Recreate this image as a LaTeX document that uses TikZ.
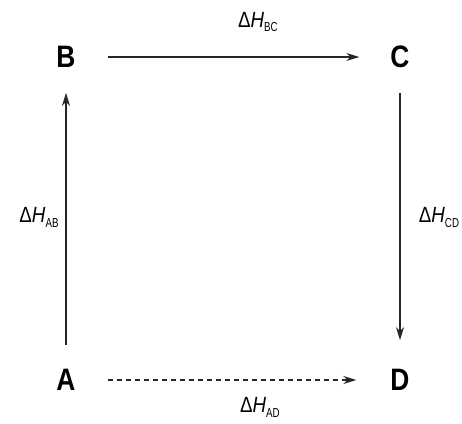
\documentclass[tikz,border=0pt]{standalone}
\usepackage{fontspec}
\setmainfont{Liberation Sans}
\newfontfamily\cond{Liberation Sans}[FakeStretch=0.85]
\newfontfamily\subcond{Liberation Sans}[FakeStretch=0.75]
\usetikzlibrary{arrows.meta}
\newcommand{\dH}[1]{{\cond\fontsize{22}{22}\selectfont Δ\textit{H}\raisebox{-5pt}{\subcond\fontsize{13}{13}\selectfont #1}}}
\tikzset{
  letter/.style={font=\cond\bfseries\fontsize{31}{31}\selectfont, inner sep=0pt, text=black},
  lbl/.style={inner sep=0pt, anchor=base},
  arr/.style={line width=1.2pt, draw=black!85, -{Stealth[length=13pt,width=8pt,inset=4pt]}},
}
\begin{document}
\begin{tikzpicture}[x=1pt,y=-1pt]
\useasboundingbox (0,0) rectangle (462,423);
\node[letter] (B) at (66,57) {B};
\node[letter] (C) at (400,57) {C};
\node[letter] (A) at (66,380) {A};
\node[letter] (D) at (400,380) {D};
\draw[arr, shorten <=32pt, shorten >=31pt] (B) -- (C);
\draw[arr, shorten <=24pt, shorten >=25pt] (A) -- (B);
\draw[arr, shorten <=25pt, shorten >=29pt] (C) -- (D);
\draw[arr, dashed, dash pattern=on 5pt off 4pt, shorten <=32pt, shorten >=34pt] (A) -- (D);
\node[lbl] (lbc) at (258,27) {\dH{BC}};
\node[lbl] (lab) at (39,222) {\dH{AB}};
\node[lbl] (lcd) at (439,222) {\dH{CD}};
\node[lbl] (lad) at (260,412) {\dH{AD}};
\end{tikzpicture}
\end{document}
